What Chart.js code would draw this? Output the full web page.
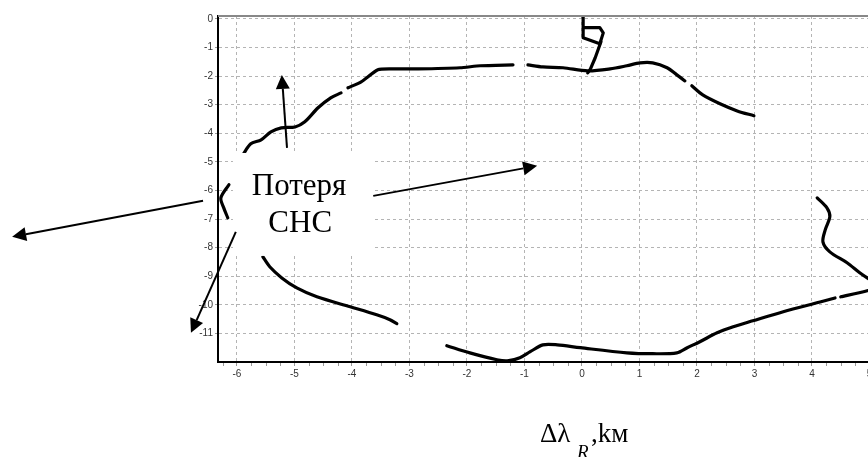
<!DOCTYPE html>
<html>
<head>
<meta charset="utf-8">
<script src="https://cdn.jsdelivr.net/npm/chart.js@4.4.0/dist/chart.umd.min.js"></script>
<style>
    html, body { margin: 0; padding: 0; background: #fff; overflow: hidden; width: 868px; height: 457px; }
    #wrap { position: absolute; left: 0; top: 0; }
</style>
</head>
<body>
<div id="wrap"><canvas id="chart" width="920" height="457"></canvas></div>
<script>
// tick values
const xTicks = [-6, -5, -4, -3, -2, -1, 0, 1, 2, 3, 4, 5];
const yTicks = [0, -1, -2, -3, -4, -5, -6, -7, -8, -9, -10, -11];

// track pieces (km)
const leftArcX = [-6.14, -6.28, -6.23, -6.16];
const leftArcY = [-5.80, -6.26, -6.61, -6.96];

const upperLeftX = [-5.90, -5.76, -5.58, -5.41, -5.23, -4.99, -4.82, -4.59, -4.37, -4.19];
const upperLeftY = [-4.76, -4.37, -4.23, -3.95, -3.81, -3.78, -3.60, -3.11, -2.76, -2.59];

const upperMidX = [-4.07, -3.84, -3.55, -3.32, -2.85, -2.12, -1.77, -1.20];
const upperMidY = [-2.41, -2.20, -1.78, -1.75, -1.75, -1.71, -1.64, -1.61];

const upperRightX = [-0.94, -0.68, -0.33, 0.10, 0.49, 0.78, 1.01, 1.23, 1.48, 1.65, 1.79];
const upperRightY = [-1.61, -1.68, -1.71, -1.82, -1.75, -1.64, -1.54, -1.54, -1.71, -1.96, -2.17];

const fallX = [1.91, 2.10, 2.40, 2.70, 2.99];
const fallY = [-2.34, -2.66, -2.97, -3.22, -3.39];

const spikeX = [0.02, 0.02, 0.31, 0.37, 0.31, 0.03];
const spikeY = [0.08, -0.66, -0.87, -0.49, -0.31, -0.31];

const stemX = [0.33, 0.23, 0.14, 0.10];
const stemY = [-0.80, -1.36, -1.78, -1.89];

const lowerLeftX = [-5.55, -5.43, -5.22, -4.96, -4.61, -4.03, -3.57, -3.34, -3.22];
const lowerLeftY = [-8.32, -8.67, -9.06, -9.41, -9.72, -10.07, -10.35, -10.52, -10.66];

const bottomX = [-2.35, -1.95, -1.48, -1.30, -1.08, -0.90, -0.68, -0.43, -0.03, 0.78, 1.23, 1.65, 1.83, 2.05, 2.35, 2.63, 2.97, 3.50, 4.14, 4.40];
const bottomY = [-11.43, -11.68, -11.92, -11.96, -11.85, -11.64, -11.40, -11.40, -11.50, -11.68, -11.71, -11.68, -11.50, -11.29, -10.98, -10.77, -10.56, -10.24, -9.90, -9.76];

const riseX = [4.50, 4.96, 5.40];
const riseY = [-9.72, -9.51, -9.25];

const rightX = [4.09, 4.26, 4.31, 4.23, 4.19, 4.31, 4.61, 4.83, 4.96, 5.30];
const rightY = [-6.26, -6.61, -6.92, -7.38, -7.80, -8.15, -8.53, -8.88, -9.06, -9.50];

const pieces = [
    [leftArcX, leftArcY, 0.3],
    [upperLeftX, upperLeftY, 0.3],
    [upperMidX, upperMidY, 0.2],
    [upperRightX, upperRightY, 0.3],
    [fallX, fallY, 0.3],
    [spikeX, spikeY, 0],
    [stemX, stemY, 0],
    [lowerLeftX, lowerLeftY, 0.3],
    [bottomX, bottomY, 0.3],
    [riseX, riseY, 0.2],
    [rightX, rightY, 0.3]
];

const datasets = pieces.map(p => ({
    data: p[0].map((x, i) => ({ x: x, y: p[1][i] })),
    showLine: true,
    borderColor: '#000',
    borderWidth: 3.2,
    borderCapStyle: 'round',
    borderJoinStyle: 'round',
    pointRadius: 0,
    tension: p[2]
}));

// arrows: tail -> tip, in km
const arrows = [
    [-5.13, -4.51, -5.22, -1.96],
    [-6.59, -6.36, -9.91, -7.62],
    [-6.02, -7.45, -6.80, -10.98],
    [-3.63, -6.19, -0.78, -5.14]
];

function drawArrow(ctx, x1, y1, x2, y2) {
    const ang = Math.atan2(y2 - y1, x2 - x1);
    const len = 14, half = 7;
    const bx = x2 - len * Math.cos(ang), by = y2 - len * Math.sin(ang);
    ctx.beginPath();
    ctx.moveTo(x1, y1);
    ctx.lineTo(bx, by);
    ctx.stroke();
    ctx.beginPath();
    ctx.moveTo(x2, y2);
    ctx.lineTo(bx + half * Math.sin(ang), by - half * Math.cos(ang));
    ctx.lineTo(bx - half * Math.sin(ang), by + half * Math.cos(ang));
    ctx.closePath();
    ctx.fill();
}

const overlay = {
    id: 'overlay',
    afterDraw(chart) {
        const ctx = chart.ctx, a = chart.chartArea;
        const px = v => chart.scales.x.getPixelForValue(v);
        const py = v => chart.scales.y.getPixelForValue(v);
        ctx.save();

        // top frame
        ctx.strokeStyle = '#888';
        ctx.lineWidth = 2;
        ctx.beginPath();
        ctx.moveTo(a.left, a.top);
        ctx.lineTo(a.right, a.top);
        ctx.stroke();

        // minor ticks on the x axis
        ctx.strokeStyle = '#999';
        ctx.lineWidth = 1;
        for (let v = -6.25; v <= 5.5; v += 0.25) {
            if (Math.abs(v - Math.round(v)) < 0.01) continue;
            const x = Math.round(px(v)) + 0.5;
            ctx.beginPath();
            ctx.moveTo(x, a.bottom + 1);
            ctx.lineTo(x, a.bottom + 4);
            ctx.stroke();
        }

        // label box
        ctx.fillStyle = '#fff';
        const bx1 = px(-6.07), bx2 = px(-3.63), by1 = py(-4.69), by2 = py(-8.29);
        ctx.fillRect(bx1, by1, bx2 - bx1, by2 - by1);

        ctx.fillStyle = '#000';
        ctx.font = '31px "Liberation Serif"';
        ctx.textAlign = 'center';
        ctx.textBaseline = 'alphabetic';
        ctx.fillText('Потеря', px(-4.92), py(-6.15));
        ctx.fillText('СНС', px(-4.90), py(-7.45));

        ctx.strokeStyle = '#000';
        ctx.lineWidth = 2;
        arrows.forEach(r => drawArrow(ctx, px(r[0]), py(r[1]), px(r[2]), py(r[3])));

        // axis title
        ctx.textAlign = 'left';
        ctx.font = '27px "Liberation Serif"';
        ctx.fillText('Δλ', 540, 442);
        ctx.font = 'italic 19px "Liberation Serif"';
        ctx.fillText('R', 577, 458);
        ctx.font = '27px "Liberation Serif"';
        ctx.fillText(',kм', 591, 442);
        ctx.restore();
    }
};

const gridOpts = {
    color: '#b4b4b4',
    lineWidth: 1,
    tickLength: 4,
    tickColor: '#999',
    tickBorderDash: []
};

new Chart(document.getElementById('chart').getContext('2d'), {
    type: 'scatter',
    data: { datasets: datasets },
    options: {
        responsive: false,
        animation: false,
        layout: { padding: { left: 0, top: 16, right: 16, bottom: 0 } },
        plugins: { legend: { display: false }, tooltip: { enabled: false } },
        scales: {
            x: {
                type: 'linear',
                min: -6.33,
                max: 5.6,
                afterBuildTicks: s => { s.ticks = xTicks.map(v => ({ value: v })); },
                afterFit: s => { s.height = 95; },
                ticks: { autoSkip: false, maxRotation: 0, padding: 2, color: '#333', font: { family: 'Liberation Sans', size: 10 } },
                grid: gridOpts,
                border: { color: '#000', width: 2, dash: [3, 3] }
            },
            y: {
                type: 'linear',
                min: -12,
                max: 0.1,
                afterBuildTicks: s => { s.ticks = yTicks.map(v => ({ value: v })); },
                afterFit: s => { s.width = 218; },
                ticks: { autoSkip: false, padding: 2, color: '#333', font: { family: 'Liberation Sans', size: 10 } },
                grid: Object.assign({}, gridOpts, { tickLength: 3 }),
                border: { color: '#000', width: 2, dash: [3, 3] }
            }
        }
    },
    plugins: [overlay]
});
</script>
</body>
</html>
